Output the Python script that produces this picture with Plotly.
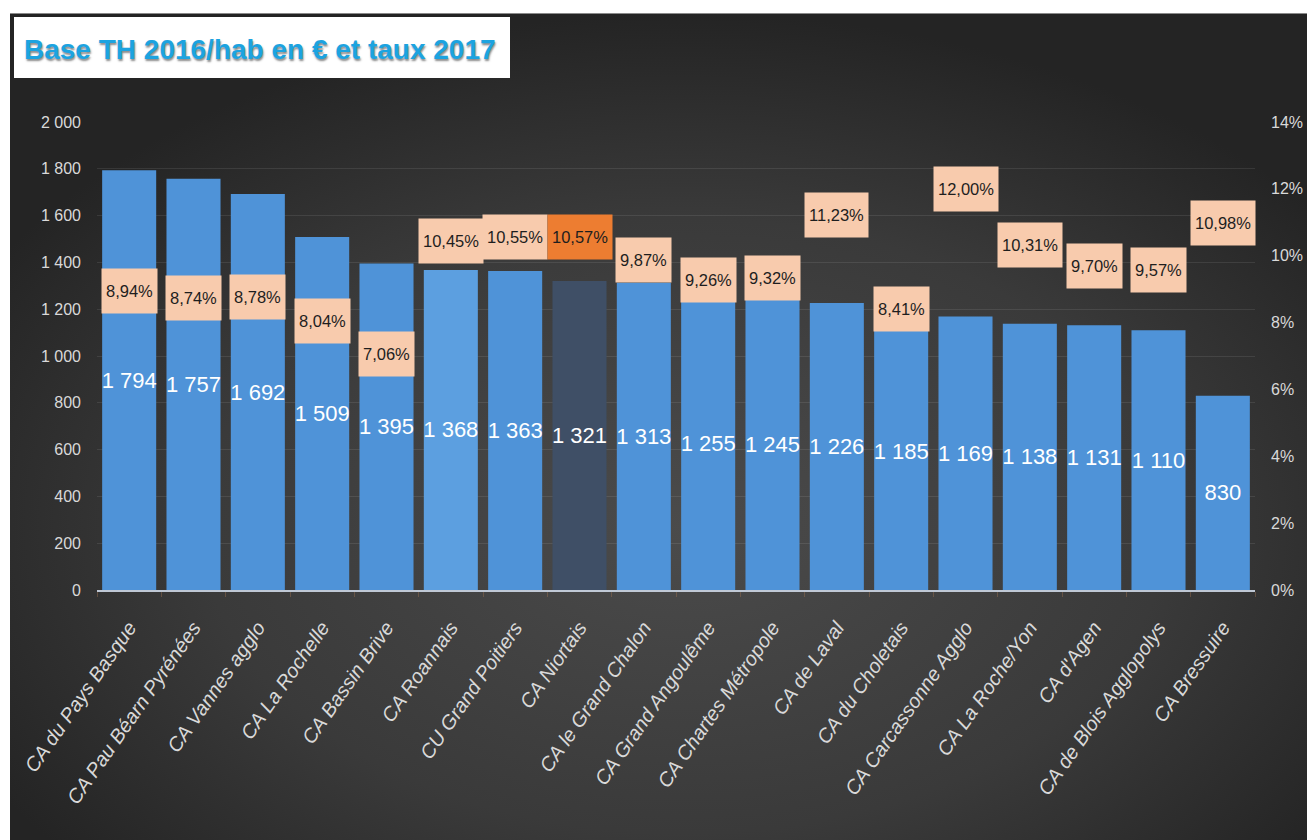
import base64
import plotly.graph_objects as go

categories = ["CA du Pays Basque", "CA Pau Béarn Pyrénées", "CA Vannes agglo", "CA La Rochelle",
              "CA Bassin Brive", "CA Roannais", "CU Grand Poitiers", "CA Niortais",
              "CA le Grand Chalon", "CA Grand Angoulême", "CA Chartes Métropole", "CA de Laval",
              "CA du Choletais", "CA Carcassonne Agglo", "CA La Roche/Yon", "CA d'Agen",
              "CA de Blois Agglopolys", "CA Bressuire"]
base_th = [1794, 1757, 1692, 1509, 1395, 1368, 1363, 1321, 1313, 1255, 1245, 1226, 1185, 1169,
           1138, 1131, 1110, 830]
taux = [8.94, 8.74, 8.78, 8.04, 7.06, 10.45, 10.55, 10.57, 9.87, 9.26, 9.32, 11.23, 8.41, 12.00,
        10.31, 9.70, 9.57, 10.98]
highlight = "CA Niortais"
lighter = "CA Roannais"
y_ticks = [0, 200, 400, 600, 800, 1000, 1200, 1400, 1600, 1800, 2000]
y2_ticks = [0, 0.02, 0.04, 0.06, 0.08, 0.10, 0.12, 0.14]

W, H = 1307, 840
ML, MR, MT, MB = 97, 52, 122, 250
PW, PH = W - ML - MR, H - MT - MB

FONT = "Liberation Sans, Arial, sans-serif"

bar_colors = []
for c in categories:
    if c == highlight:
        bar_colors.append("#3F4F66")
    elif c == lighter:
        bar_colors.append("#5C9FE0")
    else:
        bar_colors.append("#4F93D8")

svg = f'''<svg xmlns="http://www.w3.org/2000/svg" width="{W}" height="{H}" viewBox="0 0 {W} {H}" preserveAspectRatio="none">
<defs><radialGradient id="g" cx="0.52" cy="0.62" r="0.62">
<stop offset="0" stop-color="#4b4b4b"/><stop offset="0.6" stop-color="#3a3a3a"/><stop offset="1" stop-color="#242424"/>
</radialGradient></defs>
<rect x="0" y="0" width="{W}" height="{H}" fill="#ffffff"/>
<rect x="10" y="13" width="{W-10}" height="{H-13}" fill="url(#g)"/>
<line x1="10" y1="13.5" x2="{W}" y2="13.5" stroke="#8a8a8a" stroke-width="1"/>
<rect x="14" y="17" width="496" height="61" fill="#ffffff"/>
</svg>'''
svg_uri = "data:image/svg+xml;base64," + base64.b64encode(svg.encode("utf-8")).decode("ascii")

fig = go.Figure()
fig.add_trace(go.Bar(
    x=categories, y=base_th, marker=dict(color=bar_colors, line=dict(width=0)),
    texttemplate="%{y:,}", textposition="inside", insidetextanchor="middle",
    constraintext="none", textangle=0, cliponaxis=False,
    textfont=dict(family=FONT, size=22, color="#ffffff"),
    hoverinfo="x+y", showlegend=False,
))
# invisible trace to activate secondary axis
fig.add_trace(go.Scatter(x=categories, y=[t / 100 for t in taux], yaxis="y2", mode="none",
                         showlegend=False, hoverinfo="skip"))

annotations = []
for c, t in zip(categories, taux):
    txt = f"{t:.2f}".replace(".", ",") + "%"
    annotations.append(dict(
        x=c, y=t / 100, xref="x", yref="y2", text=txt, showarrow=False,
        bgcolor="#ED7D31" if c == highlight else "#F8CBAD",
        borderpad=4, height=36,
        font=dict(family=FONT, size=16.5, color="#1e1e1e"),
        xanchor="center", yanchor="middle",
    ))

fig.update_layout(
    width=W, height=H,
    margin=dict(l=ML, r=MR, t=MT, b=MB),
    paper_bgcolor="rgba(0,0,0,0)", plot_bgcolor="rgba(0,0,0,0)",
    separators=", ",
    bargap=0.16,
    title=dict(text="Base TH 2016/hab en € et taux 2017", xref="container", yref="container",
               x=24 / W, y=1 - 49 / H, xanchor="left", yanchor="middle",
               font=dict(family=FONT, size=28, color="#1CA3E0", weight="bold",
                         shadow="1px 2px 2px rgba(60,60,60,0.6)")),
    xaxis=dict(showgrid=False, showline=True, linecolor="rgba(205,215,230,0.9)", linewidth=2,
               range=[-0.5, len(categories) - 0.5],
               tickangle=-55, ticks="outside", tickson="boundaries", ticklen=5,
               tickcolor="rgba(150,110,80,0.45)", ticklabelstandoff=16, automargin=False,
               tickfont=dict(family=FONT, size=20, color="#D9D9D9", style="italic")),
    yaxis=dict(range=[0, 2000], tickvals=y_ticks, tickformat=",d", showgrid=True,
               gridcolor="rgba(255,255,255,0.09)", gridwidth=1, zeroline=False, ticks="",
               ticklabelstandoff=15, automargin=False,
               tickfont=dict(family=FONT, size=16, color="#D9D9D9")),
    yaxis2=dict(range=[0, 0.14], tickvals=y2_ticks, tickformat=".0%", overlaying="y", side="right",
                showgrid=False, zeroline=False, ticks="", ticklabelstandoff=15, automargin=False,
                tickfont=dict(family=FONT, size=16, color="#D9D9D9")),
    images=[dict(source=svg_uri, xref="paper", yref="paper",
                 x=-ML / PW, y=(PH + MT) / PH, sizex=W / PW, sizey=H / PH,
                 xanchor="left", yanchor="top", sizing="stretch", layer="below")],
    annotations=annotations,
)

fig.write_html("out.html", config={"displayModeBar": False},
               post_script="document.body.style.margin='0';document.body.style.overflow='hidden';")
